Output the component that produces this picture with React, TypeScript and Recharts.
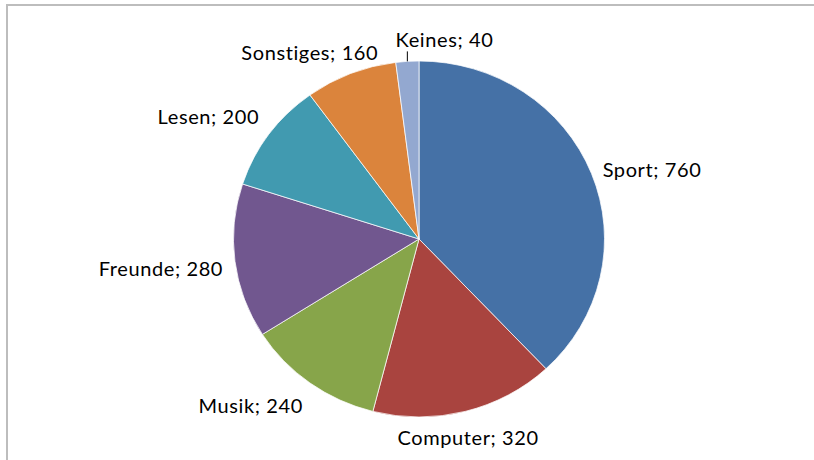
import React from 'react'
import { PieChart, Pie, Cell, Sector } from 'recharts'

const categories = ['Sport', 'Computer', 'Musik', 'Freunde', 'Lesen', 'Sonstiges', 'Keines']
const values = [760, 320, 240, 280, 200, 160, 40]
const COLORS = ['#4571A6', '#A9443F', '#87A54A', '#71578F', '#419AB0', '#DB843C', '#93A8D0']

const data = categories.map((name, i) => ({ name, value: values[i] }))

const CX = 419
const CY = 239
const R = 185.5
const SY = 178 / 185.5 // excel draws the pie a bit squashed
const RAD = Math.PI / 180

// label nudges where excel moved labels to avoid collisions
const NUDGE: Record<string, { dx: number; dy: number; anchor?: string }> = {
  Lesen: { dx: 0, dy: -9 },
  Sonstiges: { dx: 32, dy: -5 },
  Keines: { dx: -11, dy: -4, anchor: 'start' },
}

const squashed = (props: any) => (
  <g transform={`translate(0 ${props.cy * (1 - SY)}) scale(1 ${SY})`}>
    <Sector {...props} />
  </g>
)

const renderLabel = (props: any) => {
  const { midAngle, name, value, cx, cy, outerRadius } = props
  const ux = Math.cos(midAngle * RAD)
  const uy = -Math.sin(midAngle * RAD)
  const off = 12
  const px = cx + (outerRadius + off) * ux
  const py = cy + (outerRadius * SY + off) * uy
  let anchor = ux > 0.3 ? 'start' : ux < -0.3 ? 'end' : 'middle'
  const n = NUDGE[name]
  let x = px
  let y = py + uy * 10 + 4
  if (n) {
    x += n.dx
    y += n.dy
    if (n.anchor) anchor = n.anchor
  }
  const edgeX = cx + outerRadius * ux
  const edgeY = cy + outerRadius * SY * uy
  return (
    <g>
      {name === 'Keines' && (
        <line x1={edgeX} y1={edgeY} x2={edgeX} y2={y + 12} stroke="#000" strokeWidth={1} />
      )}
      <text x={x} y={y} textAnchor={anchor} dominantBaseline="central" fill="#000"
        style={{ fontFamily: 'Lato, sans-serif', fontSize: 20, letterSpacing: 0.6 }}>
        {`${name}; ${value}`}
      </text>
    </g>
  )
}

export default function App() {
  return (
    <div style={{ position: 'absolute', left: 0, top: 0, width: 814, height: 460, background: '#fff', overflow: 'hidden' }}>
      <div style={{ position: 'absolute', left: 6, top: 4, width: 820, height: 470, borderTop: '2px solid #bdbdbd', borderLeft: '2px solid #bdbdbd' }} />
      <PieChart width={814} height={460} margin={{ top: 0, right: 0, bottom: 0, left: 0 }}
        style={{ position: 'absolute', left: 0, top: 0 }}>
        <Pie
          data={data}
          dataKey="value"
          nameKey="name"
          cx={CX}
          cy={CY}
          outerRadius={R}
          startAngle={90}
          endAngle={-270}
          stroke="#fff"
          strokeWidth={0.75}
          shape={squashed}
          label={renderLabel}
          labelLine={false}
          isAnimationActive={false}
        >
          {data.map((d, i) => (
            <Cell key={d.name} fill={COLORS[i]} />
          ))}
        </Pie>
      </PieChart>
    </div>
  )
}
